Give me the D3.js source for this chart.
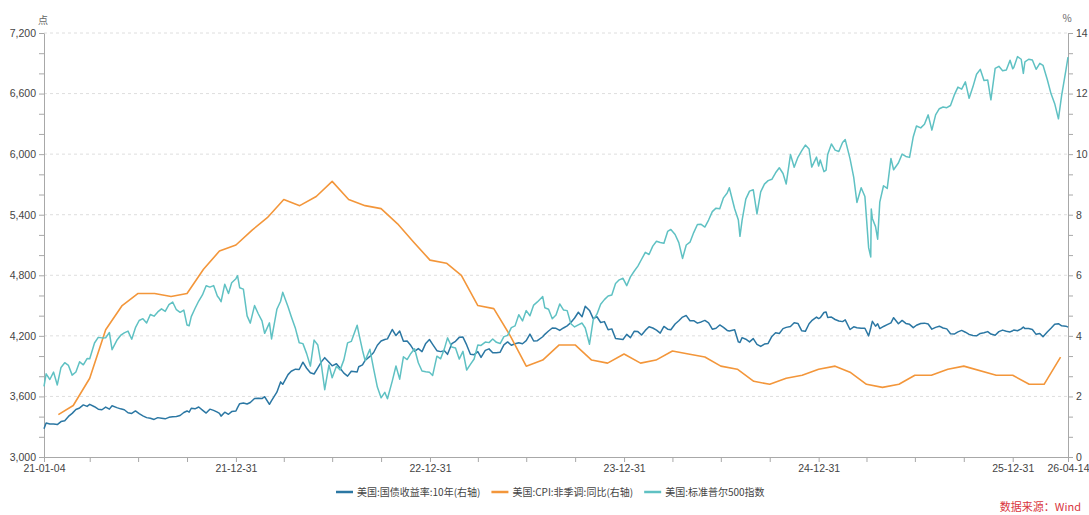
<!DOCTYPE html>
<html>
<head>
<meta charset="utf-8">
<script src="https://cdn.jsdelivr.net/npm/d3@7"></script>
<style>
  body { margin: 0; background: #fff; }
  svg { display: block; font-family: "Noto Sans CJK SC", "Noto Sans", sans-serif; }
</style>
</head>
<body>
<div id="chart"></div>
<script>
// weekly dates shared by S&P 500 and 10y yield (one row per month)
const days = [
  "2021-01-04","2021-01-08","2021-01-15","2021-01-22","2021-01-29",
  "2021-02-05","2021-02-12","2021-02-19","2021-02-26",
  "2021-03-05","2021-03-12","2021-03-19","2021-03-26","2021-03-31",
  "2021-04-09","2021-04-16","2021-04-23","2021-04-30",
  "2021-05-07","2021-05-12","2021-05-21","2021-05-28",
  "2021-06-04","2021-06-11","2021-06-18","2021-06-25",
  "2021-07-02","2021-07-09","2021-07-16","2021-07-23","2021-07-30",
  "2021-08-06","2021-08-13","2021-08-20","2021-08-27",
  "2021-09-03","2021-09-10","2021-09-17","2021-09-24","2021-09-30",
  "2021-10-04","2021-10-08","2021-10-15","2021-10-22","2021-10-29",
  "2021-11-05","2021-11-12","2021-11-19","2021-11-26","2021-11-30",
  "2021-12-03","2021-12-10","2021-12-17","2021-12-23","2021-12-31",
  "2022-01-03","2022-01-07","2022-01-14","2022-01-21","2022-01-27",
  "2022-02-04","2022-02-11","2022-02-18","2022-02-23",
  "2022-03-04","2022-03-08","2022-03-18","2022-03-25","2022-03-29",
  "2022-04-08","2022-04-14","2022-04-22","2022-04-29",
  "2022-05-06","2022-05-13","2022-05-20","2022-05-27",
  "2022-06-03","2022-06-10","2022-06-16","2022-06-24","2022-06-30",
  "2022-07-08","2022-07-15","2022-07-22","2022-07-29",
  "2022-08-05","2022-08-16","2022-08-19","2022-08-26","2022-08-31",
  "2022-09-09","2022-09-16","2022-09-23","2022-09-30",
  "2022-10-07","2022-10-12","2022-10-21","2022-10-28",
  "2022-11-04","2022-11-11","2022-11-18","2022-11-25",
  "2022-12-02","2022-12-09","2022-12-16","2022-12-23","2022-12-30",
  "2023-01-05","2023-01-13","2023-01-20","2023-01-27",
  "2023-02-02","2023-02-10","2023-02-17","2023-02-24",
  "2023-03-03","2023-03-10","2023-03-17","2023-03-24","2023-03-31",
  "2023-04-06","2023-04-14","2023-04-21","2023-04-28",
  "2023-05-05","2023-05-12","2023-05-19","2023-05-26",
  "2023-06-02","2023-06-09","2023-06-16","2023-06-23","2023-06-30",
  "2023-07-07","2023-07-14","2023-07-21","2023-07-31",
  "2023-08-04","2023-08-11","2023-08-18","2023-08-25",
  "2023-09-01","2023-09-08","2023-09-15","2023-09-22","2023-09-29",
  "2023-10-06","2023-10-13","2023-10-19","2023-10-27",
  "2023-11-03","2023-11-10","2023-11-17","2023-11-24",
  "2023-12-01","2023-12-08","2023-12-15","2023-12-22","2023-12-29",
  "2024-01-05","2024-01-12","2024-01-19","2024-01-26",
  "2024-02-02","2024-02-09","2024-02-16","2024-02-23",
  "2024-03-01","2024-03-08","2024-03-15","2024-03-22","2024-03-28",
  "2024-04-05","2024-04-12","2024-04-19","2024-04-26",
  "2024-05-03","2024-05-10","2024-05-17","2024-05-24","2024-05-31",
  "2024-06-07","2024-06-14","2024-06-21","2024-06-28",
  "2024-07-05","2024-07-12","2024-07-16","2024-07-26",
  "2024-08-02","2024-08-05","2024-08-09","2024-08-16","2024-08-23","2024-08-30",
  "2024-09-06","2024-09-13","2024-09-20","2024-09-27",
  "2024-10-04","2024-10-11","2024-10-18","2024-10-25","2024-10-31",
  "2024-11-08","2024-11-15","2024-11-22","2024-11-29",
  "2024-12-06","2024-12-13","2024-12-18","2024-12-27","2024-12-31",
  "2025-01-03","2025-01-10","2025-01-14","2025-01-17","2025-01-24","2025-01-31",
  "2025-02-07","2025-02-14","2025-02-19","2025-02-28",
  "2025-03-07","2025-03-13","2025-03-21","2025-03-28",
  "2025-04-04","2025-04-08","2025-04-09","2025-04-11","2025-04-17","2025-04-21","2025-04-25",
  "2025-05-02","2025-05-09","2025-05-16","2025-05-21","2025-05-30",
  "2025-06-06","2025-06-13","2025-06-20","2025-06-27",
  "2025-07-03","2025-07-11","2025-07-18","2025-07-25",
  "2025-08-01","2025-08-08","2025-08-15","2025-08-22","2025-08-29",
  "2025-09-05","2025-09-12","2025-09-19","2025-09-26",
  "2025-10-03","2025-10-10","2025-10-17","2025-10-24","2025-10-31",
  "2025-11-07","2025-11-14","2025-11-20","2025-11-28",
  "2025-12-05","2025-12-12","2025-12-19","2025-12-26","2025-12-31",
  "2026-01-02","2026-01-09","2026-01-16","2026-01-20","2026-01-23","2026-01-30",
  "2026-02-06","2026-02-13","2026-02-20","2026-02-26",
  "2026-03-06","2026-03-13","2026-03-20","2026-03-27",
  "2026-04-02","2026-04-10","2026-04-14"
]

// 美国:标准普尔500指数 (left axis)
const spx = [
  3700,3824,3768,3841,3714,
  3887,3934,3907,3811,
  3842,3943,3913,3975,3973,
  4129,4185,4180,4181,
  4233,4063,4156,4204,
  4230,4247,4167,4281,
  4352,4370,4327,4412,4395,
  4437,4468,4442,4509,
  4535,4459,4433,4455,4307,
  4300,4391,4471,4545,4605,
  4697,4683,4698,4595,4567,
  4538,4712,4620,4726,4766,
  4796,4677,4663,4398,4326,
  4500,4419,4349,4225,
  4329,4170,4463,4543,4631,
  4488,4392,4272,4132,
  4123,4024,3901,4158,
  4109,3901,3667,3912,3785,
  3899,3863,3962,4130,
  4145,4305,4228,4058,3955,
  4067,3873,3693,3586,
  3640,3577,3752,3901,
  3771,3993,3965,4026,
  4072,3934,3852,3845,3840,
  3808,3999,3973,4071,
  4180,4090,4079,3970,
  4046,3862,3917,3971,4109,
  4105,4138,4133,4169,
  4136,4124,4192,4205,
  4282,4299,4410,4348,4450,
  4399,4505,4536,4589,
  4478,4464,4370,4406,
  4516,4457,4450,4320,4288,
  4309,4327,4278,4117,
  4358,4415,4514,4559,
  4595,4604,4719,4755,4770,
  4697,4784,4840,4891,
  4959,5027,5006,5089,
  5137,5124,5117,5234,5254,
  5204,5123,4967,5100,
  5128,5223,5303,5305,5278,
  5347,5431,5465,5460,
  5567,5615,5667,5459,
  5347,5186,5344,5554,5634,5648,
  5408,5626,5703,5738,
  5751,5815,5865,5808,5705,
  5996,5870,5969,6032,
  6090,6051,5872,5971,5882,
  5942,5827,5842,5997,6101,6040,
  6026,6115,6144,5955,
  5770,5521,5667,5581,
  5074,4982,5457,5363,5282,5158,5525,
  5687,5660,5958,5845,5912,
  6000,5977,5968,6173,
  6279,6260,6297,6389,
  6238,6389,6450,6467,6460,
  6482,6584,6664,6644,
  6716,6553,6664,6792,6840,
  6729,6734,6538,6849,
  6870,6827,6834,6930,6845,
  6858,6966,6940,6800,6915,6940,
  6932,6840,6900,6880,
  6740,6600,6500,6350,
  6580,6830,6960
]

// 美国:国债收益率:10年 (right axis, %)
const ust10y = [
  0.93,1.12,1.09,1.09,1.07,
  1.17,1.20,1.34,1.44,
  1.57,1.62,1.72,1.67,1.74,
  1.66,1.58,1.56,1.65,
  1.58,1.69,1.63,1.59,
  1.56,1.46,1.44,1.52,
  1.43,1.36,1.30,1.28,1.24,
  1.30,1.28,1.26,1.31,
  1.33,1.34,1.37,1.47,1.52,
  1.48,1.61,1.59,1.65,1.55,
  1.45,1.58,1.54,1.48,1.44,
  1.35,1.48,1.41,1.50,1.52,
  1.63,1.76,1.78,1.75,1.80,
  1.93,1.94,1.93,1.99,
  1.74,1.86,2.14,2.48,2.40,
  2.72,2.83,2.90,2.89,
  3.13,2.93,2.78,2.74,
  2.94,3.15,3.28,3.13,3.01,
  3.08,2.93,2.77,2.67,
  2.83,2.81,2.98,3.04,3.19,
  3.32,3.45,3.69,3.83,
  3.88,3.90,4.21,4.01,
  4.16,3.82,3.83,3.68,
  3.49,3.58,3.48,3.75,3.88,
  3.72,3.51,3.48,3.51,
  3.39,3.74,3.82,3.95,
  3.96,3.70,3.39,3.38,3.48,
  3.29,3.52,3.57,3.44,
  3.44,3.46,3.70,3.80,
  3.69,3.74,3.77,3.74,3.84,
  4.06,3.83,3.84,3.97,
  4.05,4.16,4.26,4.25,
  4.18,4.26,4.33,4.44,4.59,
  4.78,4.63,4.98,4.84,
  4.57,4.63,4.44,4.47,
  4.20,4.23,3.91,3.90,3.88,
  4.05,3.94,4.15,4.14,
  4.03,4.18,4.30,4.26,
  4.19,4.09,4.31,4.22,4.20,
  4.39,4.50,4.62,4.67,
  4.50,4.50,4.42,4.46,4.51,
  4.43,4.22,4.25,4.36,
  4.28,4.18,4.16,4.20,
  3.80,3.78,3.94,3.89,3.80,3.91,
  3.72,3.65,3.73,3.75,
  3.98,4.10,4.08,4.24,4.28,
  4.31,4.43,4.41,4.17,
  4.15,4.40,4.50,4.62,4.57,
  4.60,4.77,4.79,4.61,4.62,4.54,
  4.49,4.47,4.53,4.21,
  4.30,4.27,4.25,4.25,
  4.00,4.26,4.34,4.48,4.32,4.40,4.24,
  4.31,4.37,4.43,4.60,4.40,
  4.51,4.41,4.38,4.27,
  4.35,4.41,4.42,4.39,
  4.22,4.28,4.32,4.26,4.23,
  4.07,4.06,4.13,4.18,
  4.12,4.05,4.01,4.00,4.08,
  4.10,4.14,4.06,4.02,
  4.14,4.19,4.15,4.13,4.17,
  4.19,4.17,4.23,4.29,4.24,4.24,
  4.21,4.05,4.08,3.97,
  4.13,4.25,4.38,4.40,
  4.33,4.32,4.29
]

// 美国:CPI:非季调:同比 (right axis, %), monthly, no Oct 2025 release
const cpiMonths = [
  "2021-01","2021-02","2021-03","2021-04","2021-05","2021-06","2021-07","2021-08","2021-09","2021-10","2021-11","2021-12",
  "2022-01","2022-02","2022-03","2022-04","2022-05","2022-06","2022-07","2022-08","2022-09","2022-10","2022-11","2022-12",
  "2023-01","2023-02","2023-03","2023-04","2023-05","2023-06","2023-07","2023-08","2023-09","2023-10","2023-11","2023-12",
  "2024-01","2024-02","2024-03","2024-04","2024-05","2024-06","2024-07","2024-08","2024-09","2024-10","2024-11","2024-12",
  "2025-01","2025-02","2025-03","2025-04","2025-05","2025-06","2025-07","2025-08","2025-09","2025-11","2025-12",
  "2026-01","2026-02","2026-03"
]
const cpi = [
  1.4,1.7,2.6,4.2,5.0,5.4,5.4,5.3,5.4,6.2,6.8,7.0,
  7.5,7.9,8.5,8.3,8.6,9.1,8.5,8.3,8.2,7.7,7.1,6.5,
  6.4,6.0,5.0,4.9,4.0,3.0,3.2,3.7,3.7,3.2,3.1,3.4,
  3.1,3.2,3.5,3.4,3.3,3.0,2.9,2.5,2.4,2.6,2.7,2.9,
  3.0,2.8,2.4,2.3,2.4,2.7,2.7,2.9,3.0,2.7,2.7,
  2.4,2.4,3.3
]

const leftTicks = [3000, 3600, 4200, 4800, 5400, 6000, 6600, 7200]
const rightTicks = [0, 2, 4, 6, 8, 10, 12, 14]
const seriesNames = ["美国:国债收益率:10年(右轴)", "美国:CPI:非季调:同比(右轴)", "美国:标准普尔500指数"]
const seriesColors = ["#2b77a3", "#f3963a", "#5fc1c3"]

const width = 1089
const height = 515
const margin = {top: 33, right: 21, bottom: 58, left: 44}

const parseDay = d3.timeParse("%Y-%m-%d")
const parseMonth = d3.timeParse("%Y-%m")

const spxData = days.map((d, i) => ({date: parseDay(d), v: spx[i]}))
const yieldData = days.map((d, i) => ({date: parseDay(d), v: ust10y[i]}))
// monthly value sits on the last day of its month
const cpiData = cpiMonths.map((m, i) => ({date: d3.timeDay.offset(d3.timeMonth.offset(parseMonth(m), 1), -1), v: cpi[i]}))

const svg = d3.select("#chart").append("svg")
    .attr("width", width)
    .attr("height", height)

const x = d3.scaleTime()
    .domain([parseDay("2021-01-04"), parseDay("2026-04-14")])
    .range([margin.left, width - margin.right])
const yL = d3.scaleLinear().domain([3000, 7200]).range([height - margin.bottom, margin.top])
const yR = d3.scaleLinear().domain([0, 14]).range([height - margin.bottom, margin.top])

// grid lines
svg.append("g")
    .selectAll("line")
    .data(leftTicks.slice(1))
    .join("line")
    .attr("x1", margin.left)
    .attr("x2", width - margin.right)
    .attr("y1", d => yL(d))
    .attr("y2", d => yL(d))
    .attr("stroke", "#dedede")
    .attr("stroke-dasharray", "3,3")

function styleAxis(g){
    g.select(".domain").attr("stroke", "#a8a8a8")
    g.selectAll(".tick line").attr("stroke", "#a8a8a8")
    g.selectAll(".tick text").attr("fill", "#444").style("font-size", "10.5px")
}

// left axis, minor every 200
const leftAll = d3.range(0, 22).map(i => 3000 + i * 200)
svg.append("g")
    .attr("transform", `translate(${margin.left},0)`)
    .call(d3.axisLeft(yL).tickValues(leftAll).tickSize(5).tickSizeOuter(0)
        .tickFormat(d => leftTicks.includes(d) ? d3.format(",")(d) : ""))
    .call(styleAxis)

// right axis, minor every 2/3
const rightAll = d3.range(0, 22).map(i => i * 14 / 21)
svg.append("g")
    .attr("transform", `translate(${width - margin.right},0)`)
    .call(d3.axisRight(yR).tickValues(rightAll).tickSize(5).tickSizeOuter(0)
        .tickFormat((d, i) => i % 3 === 0 ? rightTicks[i / 3] : ""))
    .call(styleAxis)

// bottom axis, quarter ends
const quarterEnds = d3.timeMonth.range(parseMonth("2021-04"), parseMonth("2026-04"), 3).map(d => d3.timeDay.offset(d, -1))
const xTicks = [parseDay("2021-01-04")].concat(quarterEnds, [parseDay("2026-04-14")])
const fmt = d3.timeFormat("%y-%m-%d")
svg.append("g")
    .attr("transform", `translate(0,${height - margin.bottom})`)
    .call(d3.axisBottom(x).tickValues(xTicks).tickSize(5).tickSizeOuter(0)
        .tickFormat((d, i) => (i === 0 || i === xTicks.length - 1 || d.getMonth() === 11) ? fmt(d) : ""))
    .call(styleAxis)

// unit labels
svg.append("text").attr("x", 43).attr("y", 24).attr("text-anchor", "middle")
    .attr("fill", "#666").style("font-size", "10px").text("点")
svg.append("text").attr("x", 1067).attr("y", 22).attr("text-anchor", "middle")
    .attr("fill", "#666").style("font-size", "10px").text("%")

// lines
const lineR = d3.line().x(d => x(d.date)).y(d => yR(d.v))
const lineL = d3.line().x(d => x(d.date)).y(d => yL(d.v))

svg.append("path").datum(yieldData)
    .attr("fill", "none").attr("stroke", seriesColors[0]).attr("stroke-width", 1.5)
    .attr("stroke-linejoin", "round").attr("d", lineR)
svg.append("path").datum(cpiData)
    .attr("fill", "none").attr("stroke", seriesColors[1]).attr("stroke-width", 1.6)
    .attr("stroke-linejoin", "round").attr("d", lineR)
svg.append("path").datum(spxData)
    .attr("fill", "none").attr("stroke", seriesColors[2]).attr("stroke-width", 1.5)
    .attr("stroke-linejoin", "round").attr("d", lineL)

// legend
const legend = svg.append("g").attr("transform", "translate(336,492)")
let lx = 0
seriesNames.forEach((name, i) => {
    legend.append("line")
        .attr("x1", lx).attr("x2", lx + 17)
        .attr("stroke", seriesColors[i]).attr("stroke-width", 2.5)
    const t = legend.append("text")
        .attr("x", lx + 21).attr("y", 3.5)
        .attr("fill", "#444").style("font-size", "10px")
        .text(name)
    lx += 21 + t.node().getComputedTextLength() + 11
})

// source
svg.append("text").attr("x", 1081).attr("y", 511).attr("text-anchor", "end")
    .attr("fill", "#d9363e").style("font-size", "11px").text("数据来源：Wind")
</script>
</body>
</html>
